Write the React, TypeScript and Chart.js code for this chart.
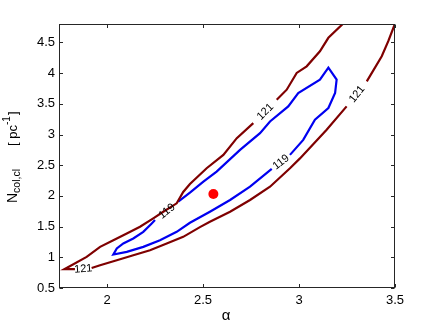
import React, { useEffect, useRef } from "react";
import { Chart, registerables } from "chart.js";

Chart.register(...registerables);

const FONT = "'Liberation Sans', Arial, Helvetica, sans-serif";

// axes
const xTicks = [2, 2.5, 3, 3.5];
const yTicks = [0.5, 1, 1.5, 2, 2.5, 3, 3.5, 4, 4.5];
const xMin = 1.75;
const xMax = 3.5;
const yMin = 0.5;
const yMax = 4.8;

// best-fit point
const bestAlpha = [2.554];
const bestN = [2.031];

// contour level 121 (dark red), split where the inline labels break the line
const c121Left: [number, number][] = [
  [1.833, 0.806], [1.778, 0.806], [1.894, 1.007], [1.964, 1.170], [2.033, 1.279],
  [2.103, 1.389], [2.172, 1.497], [2.241, 1.634], [2.293, 1.742], [2.363, 1.879],
  [2.397, 2.064], [2.432, 2.194], [2.519, 2.451], [2.606, 2.668], [2.676, 2.941],
  [2.762, 3.186],
];
const c121UpperTop: [number, number][] = [
  [2.884, 3.567], [2.936, 3.730], [2.988, 4.003], [3.040, 4.111], [3.109, 4.356],
  [3.153, 4.575], [3.228, 4.801],
];
const c121Lower: [number, number][] = [
  [1.920, 0.827], [1.964, 0.871], [2.051, 0.953], [2.137, 1.034], [2.224, 1.116],
  [2.311, 1.225], [2.397, 1.333], [2.484, 1.492], [2.536, 1.578], [2.641, 1.742],
  [2.745, 1.933], [2.849, 2.150], [2.953, 2.451], [3.005, 2.611], [3.144, 3.077],
  [3.248, 3.458],
];
const c121LowerTop: [number, number][] = [
  [3.353, 3.866], [3.431, 4.275], [3.465, 4.520], [3.498, 4.790],
];

// contour level 119 (blue), closed, split at its two labels
const c119A: [number, number][] = [
  [2.371, 1.905], [2.432, 2.052], [2.502, 2.232], [2.571, 2.395], [2.693, 2.750],
  [2.797, 3.023], [2.849, 3.212], [2.944, 3.458], [2.996, 3.676], [3.109, 3.894],
  [3.153, 4.090], [3.196, 3.894], [3.188, 3.676], [3.153, 3.431], [3.083, 3.240],
  [3.022, 2.913], [2.953, 2.668],
];
const c119B: [number, number][] = [
  [2.858, 2.440], [2.745, 2.150], [2.641, 1.933], [2.536, 1.742], [2.432, 1.562],
  [2.363, 1.415], [2.276, 1.279], [2.189, 1.170], [2.103, 1.088], [2.033, 1.046],
  [2.051, 1.144], [2.085, 1.225], [2.137, 1.307], [2.189, 1.415], [2.233, 1.552],
  [2.250, 1.606],
];

// inline contour labels: text and the two ends of the gap it sits in
const labelTexts = ["121", "121", "121", "119", "119"];
const labelGapStart: [number, number][] = [
  [1.833, 0.806], [2.762, 3.186], [3.248, 3.458], [2.250, 1.606], [2.858, 2.440],
];
const labelGapEnd: [number, number][] = [
  [1.920, 0.827], [2.884, 3.567], [3.353, 3.866], [2.371, 1.905], [2.953, 2.668],
];

const RED = "#7f0000";
const BLUE = "#0000f0";

const toPts = (a: [number, number][]) => a.map(([x, y]) => ({ x, y }));

const lineDs = (a: [number, number][], color: string) => ({
  data: toPts(a),
  showLine: true,
  borderColor: color,
  borderWidth: 2.2,
  pointRadius: 0,
  tension: 0,
  fill: false,
});

const framePlugin = {
  id: "frame",
  afterDraw(chart: any) {
    const { ctx, chartArea: a, scales } = chart;
    const xs = scales.x;
    const ys = scales.y;
    ctx.save();
    // contour labels
    ctx.fillStyle = "#000";
    ctx.font = `11px ${FONT}`;
    ctx.textAlign = "center";
    ctx.textBaseline = "middle";
    labelTexts.forEach((t, i) => {
      let p1 = [xs.getPixelForValue(labelGapStart[i][0]), ys.getPixelForValue(labelGapStart[i][1])];
      let p2 = [xs.getPixelForValue(labelGapEnd[i][0]), ys.getPixelForValue(labelGapEnd[i][1])];
      if (p2[0] < p1[0]) [p1, p2] = [p2, p1];
      const ang = Math.atan2(p2[1] - p1[1], p2[0] - p1[0]);
      ctx.save();
      ctx.translate((p1[0] + p2[0]) / 2, (p1[1] + p2[1]) / 2);
      ctx.rotate(ang);
      ctx.fillText(t, 0, 0.5);
      ctx.restore();
    });

    // box
    ctx.strokeStyle = "#262626";
    ctx.lineWidth = 1;
    const L = Math.round(a.left) + 0.5;
    const R = Math.round(a.right) - 0.5;
    const T = Math.round(a.top) + 0.5;
    const B = Math.round(a.bottom) - 0.5;
    ctx.strokeRect(L, T, R - L, B - T);
    const tl = 3.5;
    ctx.beginPath();
    xTicks.forEach((v) => {
      const px = Math.round(xs.getPixelForValue(v)) + 0.5;
      ctx.moveTo(px, B);
      ctx.lineTo(px, B - tl);
      ctx.moveTo(px, T);
      ctx.lineTo(px, T + tl);
    });
    yTicks.forEach((v) => {
      const py = Math.round(ys.getPixelForValue(v)) + 0.5;
      ctx.moveTo(L, py);
      ctx.lineTo(L + tl, py);
      ctx.moveTo(R, py);
      ctx.lineTo(R - tl, py);
    });
    ctx.stroke();

    // x title
    ctx.fillStyle = "#000";
    ctx.font = `15px ${FONT}`;
    ctx.textAlign = "center";
    ctx.textBaseline = "middle";
    ctx.fillText("α", (a.left + a.right) / 2 - 1, 316);

    // y title: N_{col,cl}  [ pc^{-1}]
    ctx.translate(17, 203);
    ctx.rotate(-Math.PI / 2);
    ctx.textAlign = "left";
    ctx.textBaseline = "alphabetic";
    let x = 0;
    ctx.font = `14px ${FONT}`;
    ctx.fillText("N", x, 0);
    x += ctx.measureText("N").width;
    ctx.font = `10.5px ${FONT}`;
    ctx.fillText("col,cl", x, 2.5);
    x += ctx.measureText("col,cl").width + 23;
    ctx.font = `13px ${FONT}`;
    ctx.fillText("[ pc", x, 0);
    x += ctx.measureText("[ pc").width;
    ctx.font = `10px ${FONT}`;
    ctx.fillText("-1", x, -7.5);
    x += ctx.measureText("-1").width + 1;
    ctx.font = `13px ${FONT}`;
    ctx.fillText("]", x, 0);
    ctx.restore();
  },
};

export default function App() {
  const ref = useRef<HTMLCanvasElement | null>(null);
  useEffect(() => {
    document.body.style.margin = "0";
    const canvas = ref.current;
    if (!canvas) return;
    const tickFont = { family: FONT, size: 13 };
    const chart = new Chart(canvas, {
      type: "scatter",
      data: {
        datasets: [
          {
            data: bestAlpha.map((x, i) => ({ x, y: bestN[i] })),
            pointRadius: 5,
            pointBackgroundColor: "#ff0000",
            pointBorderWidth: 0,
            showLine: false,
          } as any,
          lineDs(c121Left, RED),
          lineDs(c121UpperTop, RED),
          lineDs(c121Lower, RED),
          lineDs(c121LowerTop, RED),
          lineDs(c119A, BLUE),
          lineDs(c119B, BLUE),
        ],
      },
      options: {
        animation: false,
        responsive: false,
        devicePixelRatio: 1,
        layout: { padding: { top: 24, right: 41, left: 0, bottom: 0 } },
        plugins: { legend: { display: false }, tooltip: { enabled: false } },
        scales: {
          x: {
            type: "linear",
            min: xMin,
            max: xMax,
            afterBuildTicks: (s: any) => {
              s.ticks = xTicks.map((v) => ({ value: v }));
            },
            afterFit: (s: any) => {
              s.height = 40;
            },
            grid: { display: false, drawTicks: false },
            border: { display: false },
            ticks: {
              padding: 5,
              color: "#000",
              font: tickFont,
              autoSkip: false,
              maxRotation: 0,
              callback: (v: any) => String(v),
            },
          },
          y: {
            type: "linear",
            min: yMin,
            max: yMax,
            afterBuildTicks: (s: any) => {
              s.ticks = yTicks.map((v) => ({ value: v }));
            },
            afterFit: (s: any) => {
              s.width = 59;
            },
            grid: { display: false, drawTicks: false },
            border: { display: false },
            ticks: {
              padding: 4,
              color: "#000",
              font: tickFont,
              autoSkip: false,
              callback: (v: any) => String(v),
            },
          },
        },
      },
      plugins: [framePlugin],
    });
    return () => chart.destroy();
  }, []);
  return (
    <div style={{ position: "absolute", left: 0, top: 0, width: 436, height: 328, background: "#fff" }}>
      <canvas ref={ref} width={436} height={328} />
    </div>
  );
}
